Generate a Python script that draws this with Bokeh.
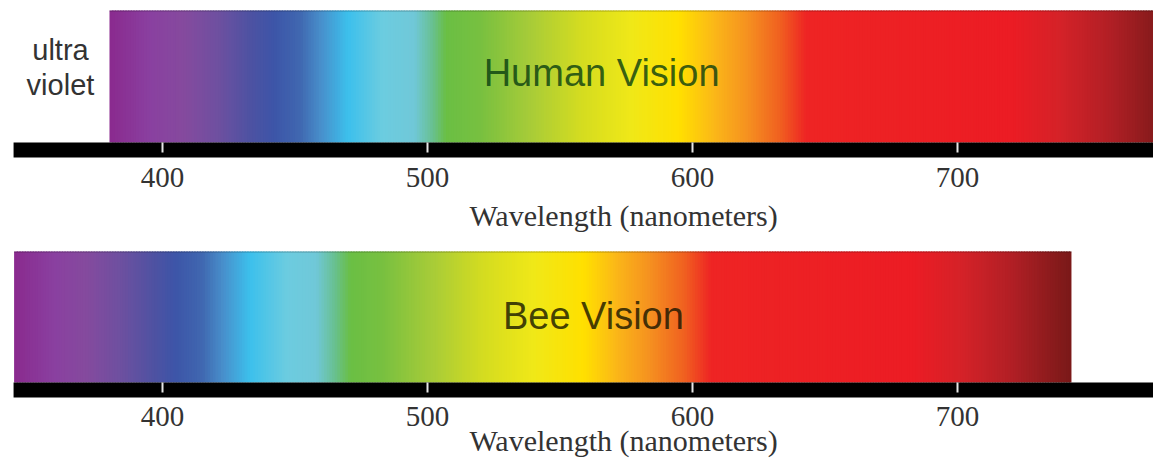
import numpy as np
from bokeh.plotting import figure
from bokeh.models import Range1d, ColumnDataSource
from bokeh.core.properties import value
from bokeh.embed import file_html
from bokeh.resources import INLINE

# ---- data ----
# colour stops of the visible spectrum (wavelength in nm -> colour)
human_nm = [380, 395, 408, 421, 433, 442, 452, 460, 470, 483, 495, 502, 507, 520,
            539, 558, 577, 595, 608, 621, 633, 643, 720, 739, 758, 777, 780]
human_colors = ["#8a2a8e", "#8a40a0", "#854a9e", "#6e50a0", "#4e52a2", "#3d55a8",
                "#4068b0", "#4890cc", "#3cc0ec", "#6ccce0", "#70c8d8", "#68c090",
                "#6abf44", "#78c040", "#a8cc38", "#d4dc20", "#f0e818", "#ffe000",
                "#fbb818", "#f59020", "#f06020", "#ee2424", "#ec1c24", "#d42228",
                "#b01f25", "#801a1a", "#7a1818"]
bee_nm = [344, 359, 371, 384, 397, 405, 415, 423, 433, 447, 458, 465, 471, 483,
          502, 521, 540, 559, 571, 584, 597, 607, 683, 702, 721, 740, 743]
bee_colors = human_colors
ticks = [400, 500, 600, 700]
tick_labels = [str(t) for t in ticks]
axis_title = "Wavelength (nanometers)"
uv_lines = ["ultra", "violet"]
titles = ["Human Vision", "Bee Vision"]
axis_nm = (343.8, 780.0)      # extent of the black wavelength bar

# ---- layout (pixel rows of each panel; y axis counts pixels downward) ----
W, H = 1153, 458
X_RANGE = (338.87, 773.96)
panels = [
    dict(nm=human_nm, cols=human_colors, title=titles[0], title_x=565.7, title_y=72,
         strip_top=10, bar_top=142, bar_bot=157, tick_bot=152, lab_y=177, ax_y=215,
         title_color="#063c10"),
    dict(nm=bee_nm, cols=bee_colors, title=titles[1], title_x=562.6, title_y=315,
         strip_top=251, bar_top=382, bar_bot=397, tick_bot=392, lab_y=416, ax_y=440,
         title_color="#141400"),
]


def hex2rgb(h):
    h = h.lstrip("#")
    return [int(h[i:i + 2], 16) for i in (0, 2, 4)]


def gradient_source(nm, cols, step=1.0):
    xs = np.arange(nm[0], nm[-1], step)
    rgb = np.array([hex2rgb(c) for c in cols], dtype=float)
    chans = [np.interp(xs + step / 2, nm, rgb[:, k]) for k in range(3)]
    colors = ["#%02x%02x%02x" % (int(round(r)), int(round(g)), int(round(b)))
              for r, g, b in zip(*chans)]
    right = np.minimum(xs + step * 1.5, nm[-1])
    return ColumnDataSource(dict(left=xs, right=right, color=colors))


p = figure(width=W, height=H, x_range=Range1d(*X_RANGE), y_range=Range1d(H, 0),
           output_backend="svg", toolbar_location=None,
           x_axis_location=None, y_axis_location=None,
           min_border=0, min_border_left=0, min_border_right=0,
           min_border_top=0, min_border_bottom=0)
p.grid.visible = False
p.outline_line_color = None
p.background_fill_color = "white"

serif = value("Liberation Serif")
sans = value("Liberation Sans")

for d in panels:
    src = gradient_source(d["nm"], d["cols"])
    p.quad(left="left", right="right", bottom=d["bar_top"], top=d["strip_top"],
           fill_color="color", line_color=None, source=src)
    # thin darker edge on top of the strip
    p.segment(x0=[d["nm"][0]], x1=[d["nm"][-1]], y0=[d["strip_top"] + 0.5],
              y1=[d["strip_top"] + 0.5], line_color="black", line_alpha=0.25, line_width=1)
    # black wavelength bar
    p.quad(left=[axis_nm[0]], right=[axis_nm[1]], bottom=[d["bar_bot"]], top=[d["bar_top"]],
           fill_color="black", line_color=None)
    # white tick marks
    p.segment(x0=ticks, x1=ticks, y0=[d["bar_top"]] * len(ticks),
              y1=[d["tick_bot"]] * len(ticks), line_color="#e6e6e6", line_width=2)
    # tick labels
    p.text(x=ticks, y=[d["lab_y"]] * len(ticks), text=tick_labels,
           text_font=serif, text_font_size=value("29px"), text_color="#333333",
           text_align="center", text_baseline="middle")
    # axis title
    p.text(x=[574], y=[d["ax_y"]], text=[axis_title],
           text_font=serif, text_font_size=value("30px"), text_color="#333333",
           text_align="center", text_baseline="middle")
    # panel title
    p.text(x=[d["title_x"]], y=[d["title_y"]], text=[d["title"]],
           text_font=sans, text_font_size=value("38px"), text_color=d["title_color"],
           text_alpha=0.8, text_align="center", text_baseline="middle")

p.text(x=[361.5, 361.5], y=[49, 84], text=uv_lines,
       text_font=sans, text_font_size=value("29px"), text_color="#333333",
       text_align="center", text_baseline="middle")

open("out.html", "w").write(file_html(p, INLINE))
